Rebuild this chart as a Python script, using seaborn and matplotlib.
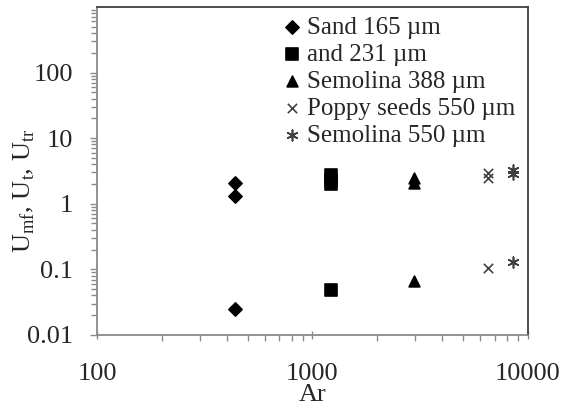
import numpy as np
import pandas as pd
import matplotlib
matplotlib.use("Agg")
import matplotlib.pyplot as plt
import seaborn as sns

# values
series = ["Sand 165 µm", "and 231 µm", "Semolina 388 µm", "Poppy seeds 550 µm", "Semolina 550 µm"]
ar_sand165 = [435, 435, 435]
u_sand165 = [2.1, 1.33, 0.0247]
ar_sand231 = [1220, 1220, 1220, 1220]
u_sand231 = [2.7, 2.3, 2.0, 0.0486]
ar_sem388 = [2975, 2975, 2975]
u_sem388 = [2.5, 2.05, 0.067]
ar_poppy = [6550, 6550, 6550]
u_poppy = [2.9, 2.45, 0.104]
ar_sem550 = [8570, 8570, 8570]
u_sem550 = [3.3, 2.85, 0.13]

sns.set_style("white")
plt.rcParams["font.family"] = ["Liberation Serif", "DejaVu Serif"]
plt.rcParams["mathtext.fontset"] = "custom"
plt.rcParams["mathtext.rm"] = "Liberation Serif"

fig = plt.figure(figsize=(5.64, 4.07), dpi=100)
ax = fig.add_axes([0.172, 0.177, 0.764, 0.806])

data = [
    (ar_sand165, u_sand165, "D", 45, "black"),
    (ar_sand231, u_sand231, "s", 65, "black"),
    (ar_sem388, u_sem388, "^", 60, "black"),
    (ar_poppy, u_poppy, "x", 45, "#404040"),
    (ar_sem550, u_sem550, (6, 2, 0), 60, "#404040"),
]
for name, (x, y, m, s, c) in zip(series, data):
    df = pd.DataFrame({"Ar": x, "U": y})
    sns.scatterplot(data=df, x="Ar", y="U", marker=m, s=s, color=c,
                    edgecolor=c, linewidth=1.2, label=name, ax=ax)

ax.set_xscale("log")
ax.set_yscale("log")
ax.set_xlim(100, 10000)
ax.set_ylim(0.01, 1000)
ax.set_yticks([0.01, 0.1, 1, 10, 100])
ax.set_yticklabels(["0.01", "0.1", "1", "10", "100"])
ax.set_xticks([100, 1000, 10000])
ax.set_xticklabels(["100", "1000", "10000"])

ax.set_xlabel("Ar", fontsize=19)
ax.xaxis.set_label_coords(0.5, -0.15)
ax.set_ylabel("U$_\\mathregular{mf}$, U$_\\mathregular{t}$, U$_\\mathregular{tr}$", fontsize=19)
ax.yaxis.set_label_coords(-0.14, 0.44)

for s in ["left", "bottom"]:
    ax.spines[s].set_color("#8a8a8a")
for s in ["top", "right"]:
    ax.spines[s].set_color("#404040")
for s in ax.spines.values():
    s.set_linewidth(1.3)

ax.tick_params(axis="y", which="major", direction="out", length=5, width=1, color="#8a8a8a",
               labelsize=19, pad=12, left=True)
ax.tick_params(axis="y", which="minor", direction="out", length=4, width=1, color="#8a8a8a", left=True)
ax.tick_params(axis="x", which="major", direction="inout", length=6, width=1, color="#8a8a8a",
               labelsize=19, pad=17, bottom=True)
ax.tick_params(axis="x", which="minor", direction="out", length=4, width=1, color="#8a8a8a", bottom=True)
ax.minorticks_on()

leg = ax.legend(loc="upper right", bbox_to_anchor=(1.0, 1.01), frameon=False, fontsize=18,
                handletextpad=0.1, labelspacing=0.18, handlelength=1.0, borderaxespad=0.1)

fig.savefig("out.png", dpi=100)
